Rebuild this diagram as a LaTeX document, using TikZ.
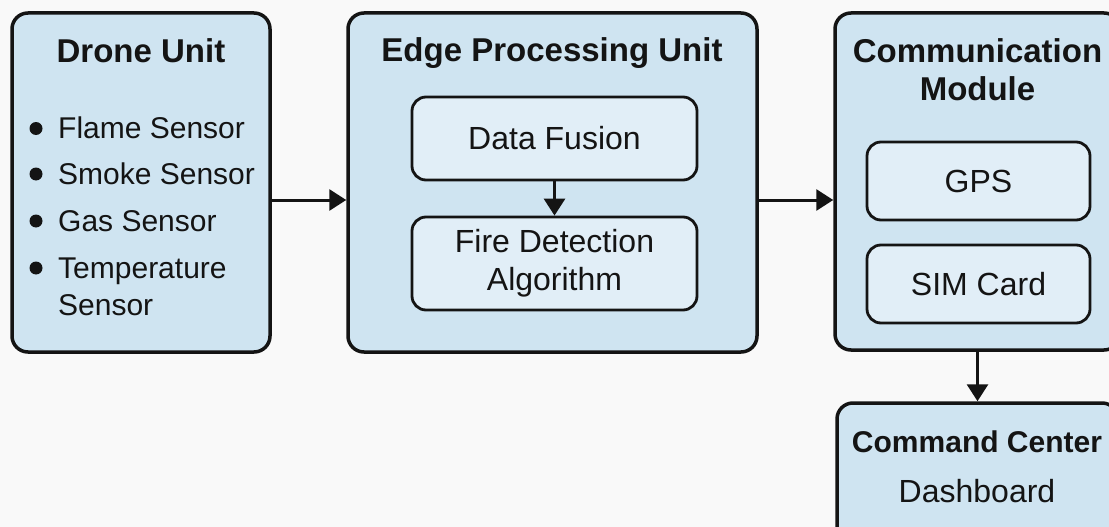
\documentclass[tikz,border=0pt]{standalone}
\usepackage{fontspec}
\setmainfont{Liberation Sans}
\usetikzlibrary{arrows.meta}
\definecolor{bg}{HTML}{F9F9F9}
\definecolor{outerfill}{HTML}{CFE4F1}
\definecolor{innerfill}{HTML}{E1EEF7}
\definecolor{ink}{HTML}{141414}
\tikzset{
  outerbox/.style={draw=ink, line width=3.5pt, fill=outerfill, rounded corners=16pt, inner sep=0pt},
  innerbox/.style={draw=ink, line width=2.8pt, fill=innerfill, rounded corners=14pt, inner sep=0pt,
    align=center, text=ink, font=\fontsize{32}{38}\selectfont},
  titletext/.style={font=\fontsize{33}{40}\selectfont\bfseries, inner sep=0pt, text=ink},
  bodytext/.style={font=\fontsize{30}{36}\selectfont, inner sep=0pt, text=ink},
  flow/.style={draw=ink, line width=3pt, -{Triangle[length=17pt,width=21pt]}},
  dot/.style={circle, fill=ink, minimum size=13pt, inner sep=0pt},
}
\begin{document}
\begin{tikzpicture}[x=1pt,y=-1pt]
\fill[bg] (0,0) rectangle (1109,527);
\useasboundingbox (0,0) rectangle (1109,527);
\clip (0,0) rectangle (1109,527);

% outer blocks
\node[outerbox, minimum width=258pt, minimum height=339pt] (drone) at (141,182.5) {};
\node[outerbox, minimum width=409pt, minimum height=339pt] (edge) at (552.5,182.5) {};
\node[outerbox, minimum width=285pt, minimum height=337pt] (comm) at (977.5,181.5) {};
\node[outerbox, minimum width=281pt, minimum height=157pt] (cmd) at (977.5,481.5) {};

% inner blocks
\node[innerbox, minimum width=285pt, minimum height=83pt] (df) at (554.5,138.5) {Data Fusion};
\node[innerbox, minimum width=285pt, minimum height=93pt] (fd) at (554.5,263.5) {Fire Detection\\Algorithm};
\node[innerbox, minimum width=223pt, minimum height=78pt] (gps) at (978.5,181) {GPS};
\node[innerbox, minimum width=223pt, minimum height=78pt] (sim) at (978.5,284) {SIM Card};

% titles
\node[titletext, anchor=base] (droneT) at (141,63) {Drone Unit};
\node[titletext, anchor=base] (edgeT) at (552,62) {Edge Processing Unit};
\node[titletext, anchor=base] (commT1) at (977.5,63) {Communication};
\node[titletext, anchor=base] (commT2) at (977.5,100) {Module};
\node[titletext, anchor=base, font=\fontsize{30}{36}\selectfont\bfseries] (cmdT) at (977,452) {Command Center};
\node[bodytext, anchor=base, font=\fontsize{32}{38}\selectfont] (dash) at (977,502) {Dashboard};

% sensor list
\node[dot] (b1) at (36,128.5) {};
\node[dot] (b2) at (36,174) {};
\node[dot] (b3) at (36,221) {};
\node[dot] (b4) at (36,268) {};
\node[bodytext, anchor=base west] (s1) at (58,138) {Flame Sensor};
\node[bodytext, anchor=base west] (s2) at (58,184) {Smoke Sensor};
\node[bodytext, anchor=base west] (s3) at (58,231) {Gas Sensor};
\node[bodytext, anchor=base west] (s4) at (58,278) {Temperature};
\node[bodytext, anchor=base west] (s5) at (58,315) {Sensor};

% connectors
\coordinate (row) at (0,200);
\draw[flow] (drone.east |- row) -- (edge.west |- row);
\draw[flow] (edge.east |- row) -- (comm.west |- row);
\draw[flow] (df.south) -- (fd.north);
\draw[flow] (comm.south) -- (cmd.north);
\end{tikzpicture}
\end{document}
